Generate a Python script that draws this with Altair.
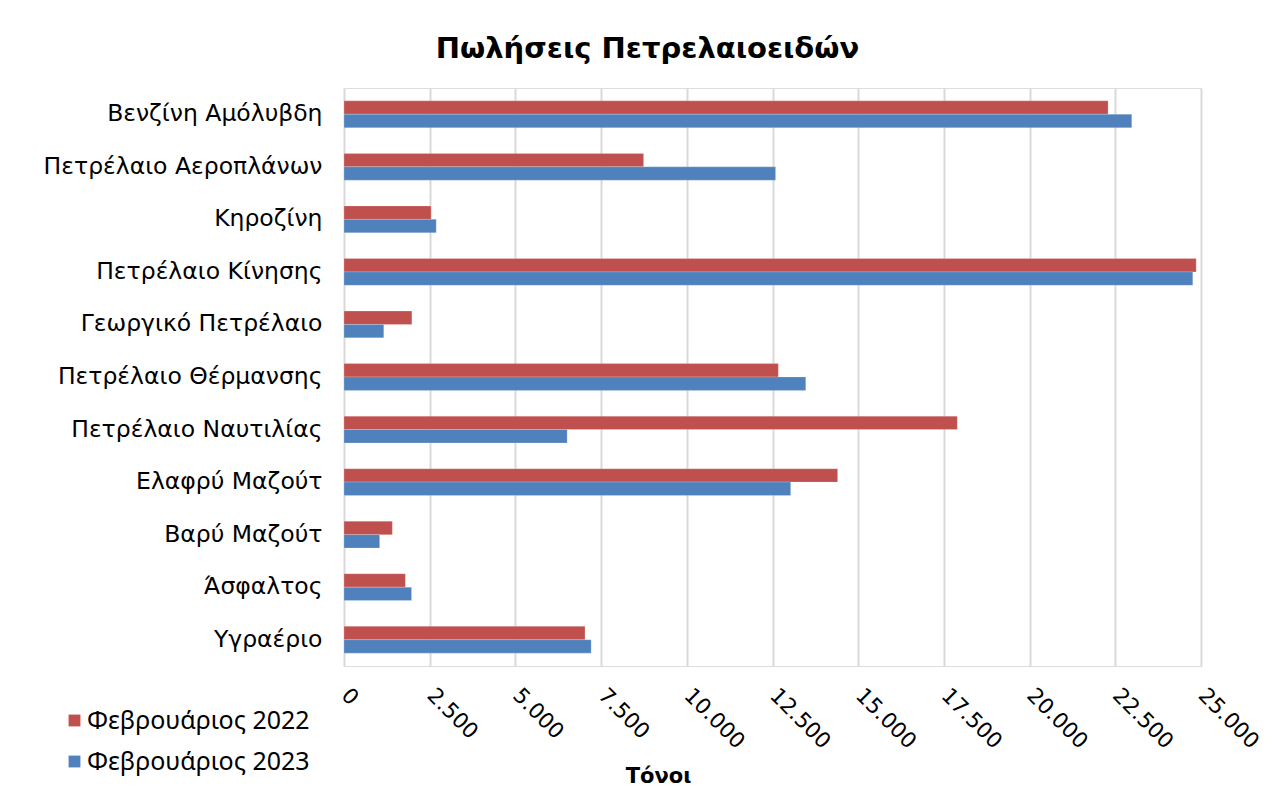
import altair as alt
import pandas as pd

categories = [
    "Βενζίνη Αμόλυβδη",
    "Πετρέλαιο Αεροπλάνων",
    "Κηροζίνη",
    "Πετρέλαιο Κίνησης",
    "Γεωργικό Πετρέλαιο",
    "Πετρέλαιο Θέρμανσης",
    "Πετρέλαιο Ναυτιλίας",
    "Ελαφρύ Μαζούτ",
    "Βαρύ Μαζούτ",
    "Άσφαλτος",
    "Υγραέριο",
]
series = ["Φεβρουάριος 2022", "Φεβρουάριος 2023"]
values_2022 = [22290, 8740, 2540, 24860, 1980, 12670, 17890, 14400, 1410, 1790, 7030]
values_2023 = [22980, 12590, 2690, 24760, 1160, 13470, 6510, 13030, 1040, 1970, 7210]
colors = ["#C0504D", "#4F81BD"]
x_ticks = [0, 2500, 5000, 7500, 10000, 12500, 15000, 17500, 20000, 22500, 25000]

rows = []
for c, a, b in zip(categories, values_2022, values_2023):
    rows.append({"cat": c, "series": series[0], "value": a})
    rows.append({"cat": c, "series": series[1], "value": b})
df = pd.DataFrame(rows)

FONT = "DejaVu Sans"

chart = alt.Chart(df).mark_bar(stroke="white", strokeWidth=0.5, strokeOpacity=0.4).encode(
    y=alt.Y("cat:N", sort=categories,
            scale=alt.Scale(paddingInner=0.49, paddingOuter=0.245),
            axis=alt.Axis(title=None, ticks=False, domain=False, labelPadding=22,
                          labelFont=FONT, labelFontSize=23.5, labelColor="#000000",
                          labelLimit=400, grid=False)),
    yOffset=alt.YOffset("series:N", sort=series),
    x=alt.X("value:Q",
            scale=alt.Scale(domain=[0, 25000], nice=False),
            axis=alt.Axis(title="Τόνοι", values=x_ticks, format=",.0f",
                          labelExpr="replace(format(datum.value, ',.0f'), ',', '.')",
                          labelAngle=45, labelAlign="left", labelBaseline="middle",
                          labelPadding=26, labelFont=FONT, labelFontSize=21.5,
                          labelColor="#000000", ticks=False, domain=False,
                          labelLimit=200,
                          grid=True, gridColor="#D9D9D9", gridWidth=2,
                          titleFont=FONT, titleFontSize=21, titleFontWeight="bold",
                          titleColor="#000000", titleX=314, titleY=110,
                          titleAlign="center", titleBaseline="middle")),
    color=alt.Color("series:N", sort=series,
                    scale=alt.Scale(domain=series, range=colors),
                    legend=alt.Legend(title=None, orient="none", legendX=-282, legendY=620,
                                      symbolType="square", symbolSize=140,
                                      symbolStrokeWidth=0, labelFont="Noto Sans",
                                      labelFontSize=25, labelColor="#000000",
                                      labelLimit=400,
                                      rowPadding=15, labelOffset=0)),
).properties(
    width=857,
    height=578,
    title=alt.TitleParams("Πωλήσεις Πετρελαιοειδών", font=FONT, fontSize=29,
                          fontWeight="bold", color="#000000", anchor="middle",
                          dx=-125, offset=24),
    autosize=alt.AutoSizeParams(type="none"),
    padding={"left": 336, "top": 80, "right": 64, "bottom": 120},
).configure_view(
    stroke="#D9D9D9", strokeWidth=2
).configure(background="white")

chart.save("out.html", embed_options={"renderer": "svg", "actions": False})
